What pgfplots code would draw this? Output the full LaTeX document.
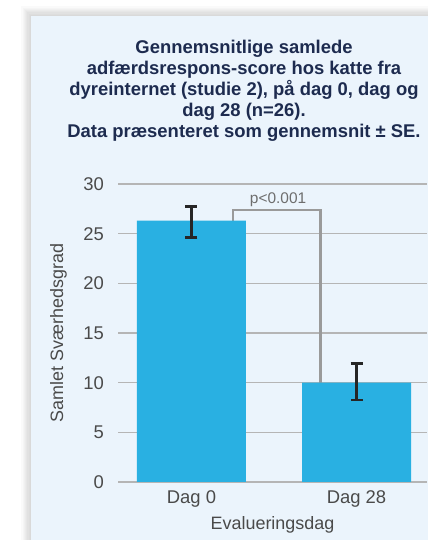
\documentclass[border=0pt]{standalone}
\usepackage{pgfplots}
\pgfplotsset{compat=1.18}
\usepackage{fontspec}
\setmainfont{Liberation Sans}
\definecolor{panel}{HTML}{EBF4FC}
\definecolor{barblue}{HTML}{29B0E2}
\definecolor{gridg}{HTML}{B5B5B5}
\definecolor{ticktxt}{HTML}{4A4A4A}
\definecolor{titlec}{HTML}{1D2B4F}
\definecolor{brack}{HTML}{9A9A9A}
\definecolor{ptxt}{HTML}{6E6E6E}
\begin{document}
\begin{tikzpicture}[x=1bp,y=1bp]
\useasboundingbox (0,0) rectangle (427,540);
\foreach \i in {1,...,8} { \fill[black,opacity=0.018] (31-\i*1.2,-10) rectangle (440,524+\i*1.2); }
\fill[panel] (31,-10) rectangle (440,524);
\node[anchor=north, align=center, inner sep=0pt, font=\fontsize{18.5}{21}\selectfont\bfseries, text=titlec] at (244,500)
 {Gennemsnitlige samlede\\adfærdsrespons-score hos katte fra\\dyreinternet (studie 2), på dag 0, dag og\\dag 28 (n=26).\\Data præsenteret som gennemsnit ± SE.};
\begin{axis}[at={(118bp,58bp)}, anchor=south west, scale only axis,
  width=309bp, height=298bp,
  xmin=-0.445, xmax=1.427, ymin=0, ymax=30,
  axis line style={draw=none}, major tick length=0pt,
  ytick={0,5,...,30}, ymajorgrids, grid style={gridg, line width=1.2bp},
  xtick={0,1}, xticklabels={Dag 0, Dag 28},
  tick label style={font=\fontsize{18.5}{18.5}\selectfont, text=ticktxt},
  yticklabel style={anchor=east, inner sep=0pt, xshift=-14bp},
  xticklabel style={anchor=north, inner sep=0pt, yshift=-8bp},
  /pgf/number format/assume math mode=true,
  xlabel={Evalueringsdag}, ylabel={Samlet Sværhedsgrad},
  label style={font=\fontsize{18}{18}\selectfont, text=ticktxt},
  xlabel style={at={(axis description cs:0.5,-0.114)}, anchor=north, inner sep=0pt},
  ylabel style={at={(axis description cs:-0.165,0.5)}, anchor=south, inner sep=0pt},
  no markers]
\addplot[brack, line width=2.5bp, sharp plot] coordinates {(0.252,26.3) (0.252,27.4) (0.782,27.4) (0.782,10.0)};
\addplot[ybar, bar width=109bp, bar shift=0pt, fill=barblue, draw=none,
  error bars/.cd, y dir=both, y explicit,
  error bar style={line width=2.5bp, black!85},
  error mark options={rotate=90, mark size=6bp, line width=2.5bp, black!85}]
  coordinates {(0,26.3) += (0,1.44) -= (0,1.69) (1,10.0) += (0,1.95) -= (0,1.75)};
\node[anchor=base, inner sep=0pt, font=\fontsize{15.5}{15.5}\selectfont, text=ptxt, yshift=6.4bp] at (axis cs:0.525,27.4) {p<0.001};
\end{axis}
\end{tikzpicture}
\end{document}
